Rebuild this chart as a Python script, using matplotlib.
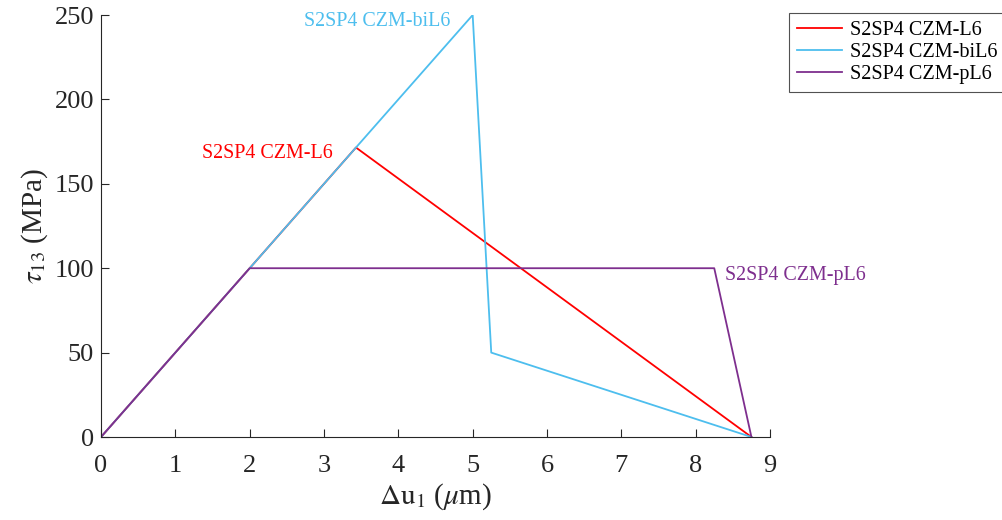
import numpy as np
import matplotlib.pyplot as plt

plt.rcParams['font.family'] = ['Liberation Serif', 'DejaVu Serif']
plt.rcParams['mathtext.fontset'] = 'stix'

# traction-separation laws
x_L6 = [0, 3.43, 8.75]
y_L6 = [0, 171.5, 0]
x_biL6 = [0, 5.0, 5.25, 8.75]
y_biL6 = [0, 250, 50, 0]
x_pL6 = [0, 2.0, 8.25, 8.75]
y_pL6 = [0, 100, 100, 0]

names = ['S2SP4 CZM-L6', 'S2SP4 CZM-biL6', 'S2SP4 CZM-pL6']
colors = ['#FF0000', '#4DBEEE', '#7E2F8E']

xticks = np.arange(0, 10, 1)
yticks = np.arange(0, 251, 50)

fig = plt.figure(figsize=(10.03, 5.2), dpi=100)
ax = fig.add_axes([0.1007, 0.1596, 0.667, 0.8115])

ax.plot(x_L6, y_L6, color=colors[0], lw=1.3, label=names[0])
ax.plot(x_biL6, y_biL6, color=colors[1], lw=1.3, label=names[1])
ax.plot(x_pL6, y_pL6, color=colors[2], lw=1.3, label=names[2])

# curve labels
ax.text(3.12, 168, names[0], color=colors[0], fontsize=14.4, ha='right', va='center')
ax.text(4.70, 246, names[1], color=colors[1], fontsize=14.4, ha='right', va='center')
ax.text(8.4, 95.5, names[2], color=colors[2], fontsize=14.4, ha='left', va='center')

ax.set_xlim(0, 9)
ax.set_ylim(0, 250)
ax.set_xticks(xticks)
ax.set_yticks(yticks)
for s in ['top', 'right']:
    ax.spines[s].set_visible(False)
for s in ['left', 'bottom']:
    ax.spines[s].set_color('#262626')
    ax.spines[s].set_linewidth(0.8)
ax.tick_params(direction='in', length=6, width=0.8, color='#262626',
               labelsize=19, labelcolor='#262626')
ax.tick_params(axis='x', pad=13)
ax.tick_params(axis='y', pad=5)

ax.set_xlabel(r'$\Delta\mathrm{u}_1$ ($\mu$m)', fontsize=21, color='#262626', labelpad=3)
ax.set_ylabel(r'$\tau_{13}$ (MPa)', fontsize=21, color='#262626', labelpad=3)

leg = ax.legend(loc='upper left', bbox_to_anchor=(0.787, 0.975), bbox_transform=fig.transFigure,
                fontsize=14.5, frameon=True, fancybox=False, edgecolor='#262626',
                handlelength=2.2, borderpad=0.4, labelspacing=0.15, handletextpad=0.4,
                borderaxespad=0)
leg.get_frame().set_linewidth(0.8)

fig.savefig('out.png', dpi=100)
